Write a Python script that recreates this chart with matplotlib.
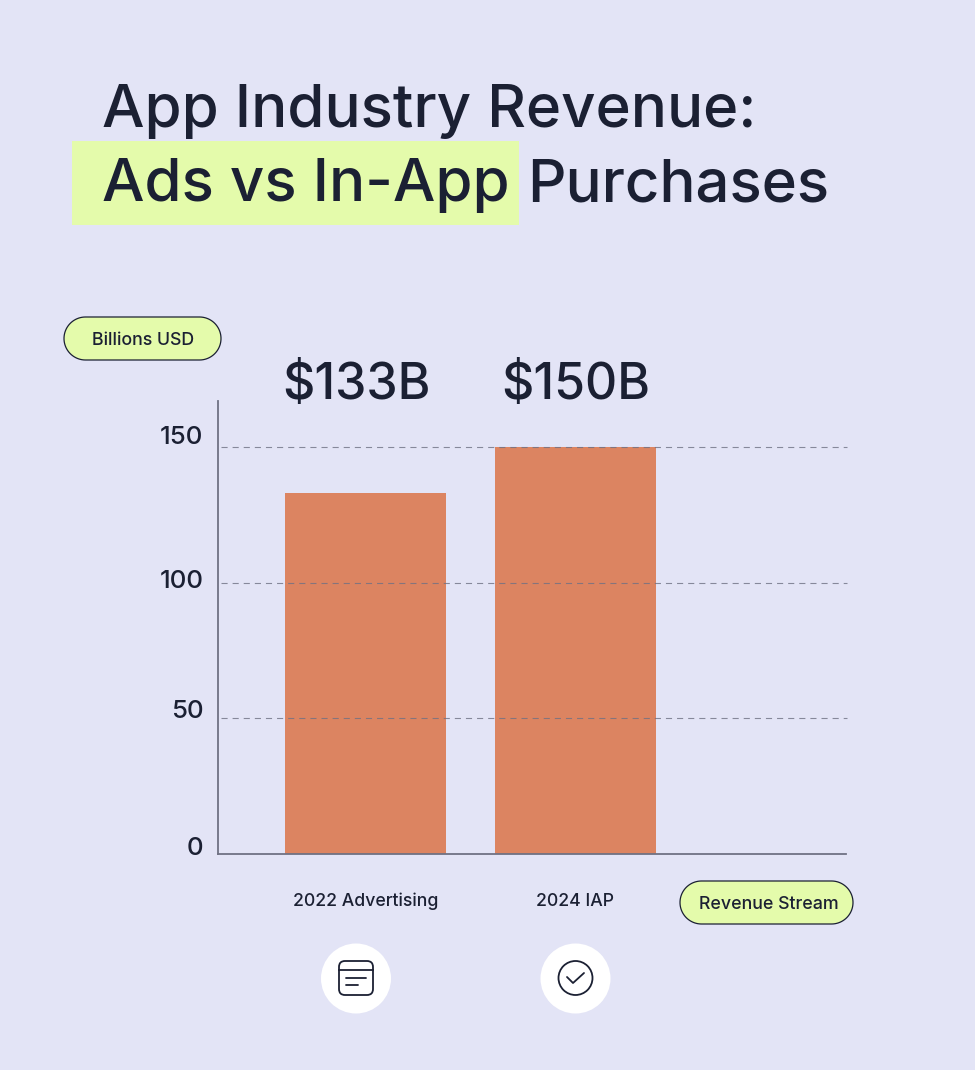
import matplotlib
matplotlib.use("Agg")
import matplotlib.pyplot as plt
import numpy as np
from matplotlib.patches import Circle, FancyBboxPatch, Polygon, Rectangle
from matplotlib.transforms import ScaledTranslation

categories = ["2022 Advertising", "2024 IAP"]
revenue = [133, 150]
value_labels = ["$133B", "$150B"]
y_ticks = [0, 50, 100, 150]

BG = "#E3E4F6"
DARK = "#1B2033"
LIME = "#E4FBAB"
BAR = "#DC8461"
GRAY = "#6F7183"

W, H = 975, 1070

plt.rcParams["font.family"] = ["Inter", "DejaVu Sans"]

fig = plt.figure(figsize=(W / 100, H / 100), dpi=100, facecolor=BG)

# chart area, in pixels of the image
left, right, top, bottom = 218, 846, 401, 854
ax = fig.add_axes([left / W, 1 - bottom / H, (right - left) / W, (bottom - top) / H])
ax.set_facecolor("none")
ax.set_xlim(-0.702, 2.288)
ax.set_ylim(0, 167)

ax.bar(range(len(revenue)), revenue, width=0.767, color=BAR, zorder=2)

for v in y_ticks[1:]:
    ax.axhline(v, xmin=0.005, xmax=1.001, color=GRAY, lw=0.8, dashes=(5.5, 4.5),
               zorder=3, alpha=0.8, clip_on=False)

for s in ["top", "right"]:
    ax.spines[s].set_visible(False)
for s in ["left", "bottom"]:
    ax.spines[s].set_color(GRAY)
    ax.spines[s].set_linewidth(1.3)

ax.set_xticks([])
ax.set_yticks(y_ticks)
ax.set_yticklabels(y_ticks, fontsize=18.6, color=DARK, fontweight="medium")
ax.tick_params(axis="y", length=0, pad=10.5)

# the labels sit a bit above their gridlines in the original
for lab, dy in zip(ax.get_yticklabels(), [8, 9, 4, 12]):
    lab.set_transform(lab.get_transform() + ScaledTranslation(0, dy / 100, fig.dpi_scale_trans))

# overlay for everything outside the plot, y runs downwards like the image
ov = fig.add_axes([0, 0, 1, 1], zorder=5)
ov.set_xlim(0, W)
ov.set_ylim(H, 0)
ov.axis("off")

ov.add_patch(Rectangle((72, 141), 447, 84, color=LIME, lw=0))
ov.text(102, 127, "App Industry Revenue:", fontsize=43.2, color=DARK, fontweight="medium", va="baseline")
ov.text(102, 201, "Ads vs In-App", fontsize=43.2, color=DARK, fontweight="medium", va="baseline")
ov.text(527, 201, "Purchases", fontsize=43.2, color=DARK, fontweight="medium", va="baseline")


def pill(x0, y0, x1, y1, text, cx):
    r = (y1 - y0) / 2
    t = np.linspace(-np.pi / 2, np.pi / 2, 40)
    xs = np.r_[x1 - r + r * np.cos(t), x0 + r - r * np.cos(t[::-1])]
    ys = np.r_[(y0 + y1) / 2 + r * np.sin(t), (y0 + y1) / 2 + r * np.sin(t[::-1])]
    ov.add_patch(Polygon(np.c_[xs, ys], closed=True, fc=LIME, ec=DARK, lw=0.9))
    ov.text(cx, (y0 + y1) / 2, text, fontsize=12.8, color=DARK, fontweight="medium",
            ha="center", va="center_baseline")


pill(64, 317, 221, 360, "Billions USD", 143)
pill(680, 881, 853, 924, "Revenue Stream", 768.5)

for cx, lab in zip([356.5, 575.5], value_labels):
    ov.text(cx, 399, lab, fontsize=36, color=DARK, fontweight="medium", ha="center", va="baseline")

for cx, lab in zip([365.5, 575.5], categories):
    ov.text(cx, 899.5, lab, fontsize=12.7, color=DARK, fontweight="medium", ha="center", va="center_baseline")

# icons under the categories
for cx in [356, 575.5]:
    ov.add_patch(Circle((cx, 978.5), 35, color="white", lw=0))

ov.add_patch(FancyBboxPatch((339, 961), 34, 34, boxstyle="round,pad=0,rounding_size=6",
                            fc="none", ec=DARK, lw=1.3))
ov.plot([339, 373], [970, 970], color=DARK, lw=1.3)
ov.plot([346, 366], [978, 978], color=DARK, lw=1.3, solid_capstyle="round")
ov.plot([346, 358], [985, 985], color=DARK, lw=1.3, solid_capstyle="round")

ov.add_patch(Circle((575.5, 978), 17, fc="none", ec=DARK, lw=1.3))
ov.plot([567, 573, 584], [977, 983, 973], color=DARK, lw=1.3,
        solid_capstyle="round", solid_joinstyle="round")

fig.savefig("out.png", dpi=100, facecolor=BG)
